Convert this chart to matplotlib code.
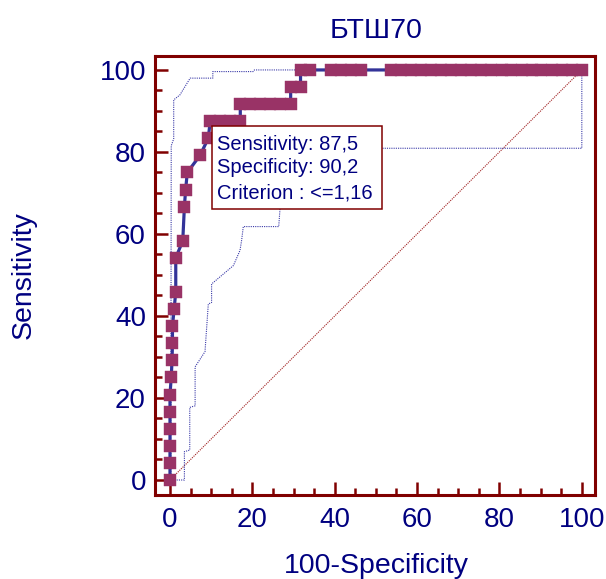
import matplotlib
matplotlib.use("Agg")
import matplotlib.pyplot as plt
from matplotlib.patches import Rectangle
from matplotlib.ticker import MultipleLocator

plt.rcParams['font.family'] = ['Liberation Sans', 'DejaVu Sans']

# ROC curve points (100-Specificity, Sensitivity)
roc_fpr = [0, 0, 0, 0, 0, 0, 0.3, 0.5, 0.6, 0.6, 1.0, 1.4, 1.4, 3.1, 3.5, 3.8,
           4.2, 7.3, 9.3, 9.76, 12.2, 14.6, 17.07, 17.07, 19.5, 21.95, 24.4,
           26.8, 29.3, 29.3, 31.7, 31.7, 34.1, 39.0, 41.5, 43.9, 46.3, 53.7,
           56.1, 58.5, 61.0, 63.4, 65.9, 68.3, 70.7, 73.2, 75.6, 78.0, 80.5,
           82.9, 85.4, 87.8, 90.2, 92.7, 95.1, 97.6, 100]
roc_sens = [0, 4.17, 8.33, 12.5, 16.67, 20.83, 25, 29.17, 33.33, 37.5, 41.67,
            45.83, 54.17, 58.33, 66.67, 70.83, 75, 79.17, 83.33, 87.5, 87.5,
            87.5, 87.5, 91.67, 91.67, 91.67, 91.67, 91.67, 91.67, 95.83, 95.83,
            100, 100, 100, 100, 100, 100, 100, 100, 100, 100, 100, 100, 100,
            100, 100, 100, 100, 100, 100, 100, 100, 100, 100, 100, 100, 100]

# 95% confidence bounds
upper_x = [0, 0.2, 0.3, 0.9, 0.9, 2.4, 4.9, 10.4, 10.4, 20.2, 20.5, 100]
upper_y = [0, 0, 81.5, 83.2, 92.7, 93.9, 98.0, 98.0, 99.6, 99.6, 100, 100]
lower_x = [0, 3.5, 3.5, 4.8, 4.8, 6.1, 6.1, 8.5, 9.3, 10.1, 10.1, 15.4, 17.0,
           17.4, 17.8, 26.4, 26.7, 26.7, 34, 34, 45, 45, 100, 100]
lower_y = [0, 0, 6.9, 7.3, 17.7, 18.1, 27.6, 31.3, 42.9, 43.3, 47.8, 52.3,
           56.0, 58.5, 61.8, 61.8, 65.9, 72, 72, 78, 78, 80.9, 80.9, 100]

ref_line = [0, 100]

title = "БТШ70"
x_label = "100-Specificity"
y_label = "Sensitivity"
info_lines = ["Sensitivity: 87,5", "Specificity: 90,2", "Criterion : <=1,16"]

navy = '#000080'
maroon = '#800000'

fig = plt.figure(figsize=(6.06, 5.79), dpi=100)
ax = fig.add_axes([155 / 606, 1 - 495 / 579, 440 / 606, 439 / 579])
ax.set_xlim(-3.64, 103.2)
ax.set_ylim(-3.66, 103.4)

# diagonal reference
ax.plot(ref_line, ref_line, color='#a02020', lw=0.8, ls=(0, (1, 1)), zorder=2)
# confidence bounds
ax.plot(upper_x, upper_y, color='#3a3aa8', lw=0.8, ls=(0, (1, 1)), zorder=2)
ax.plot(lower_x, lower_y, color='#3a3aa8', lw=0.8, ls=(0, (1, 1)), zorder=2)
# ROC curve
ax.plot(roc_fpr, roc_sens, color='#333399', lw=2.3, zorder=3)
ax.plot(roc_fpr, roc_sens, ls='none', marker='s', ms=8.0,
        mfc='#993366', mec='#993366', mew=0.3, zorder=4)

# criterion box
bx0, bx1, by0, by1 = 10.13, 51.5, 66.05, 86.3
ax.add_patch(Rectangle((bx0, by0), bx1 - bx0, by1 - by0, facecolor='white',
                       edgecolor=maroon, lw=1.1, zorder=6))
for txt, yb in zip(info_lines, [80.5, 74.8, 68.7]):
    ax.text(11.4, yb, txt, color=navy, fontsize=14.5, va='baseline',
            ha='left', zorder=7)

for sp in ax.spines.values():
    sp.set_color(maroon)
    sp.set_linewidth(2.2)

ax.xaxis.set_major_locator(MultipleLocator(20))
ax.xaxis.set_minor_locator(MultipleLocator(5))
ax.yaxis.set_major_locator(MultipleLocator(20))
ax.yaxis.set_minor_locator(MultipleLocator(5))
ax.tick_params(which='both', direction='in', color=maroon, width=1.8,
               top=False, right=False, labelcolor=navy, labelsize=20)
ax.tick_params(which='major', length=9.5)
ax.tick_params(which='minor', length=5)
ax.tick_params(axis='y', which='major', pad=6.5)
ax.tick_params(axis='x', which='major', pad=8.5)

fig.text(376 / 606, 1 - 38.3 / 579, title, color=navy, fontsize=20.5,
         ha='center', va='baseline')
fig.text(376.7 / 606, 1 - 573.3 / 579, x_label, color=navy, fontsize=20.5,
         ha='center', va='baseline')
fig.text(31 / 606, 1 - 275 / 579, y_label, color=navy, fontsize=20.5,
         ha='center', va='baseline', rotation=90, rotation_mode='anchor')

fig.savefig('out.png', dpi=100)
